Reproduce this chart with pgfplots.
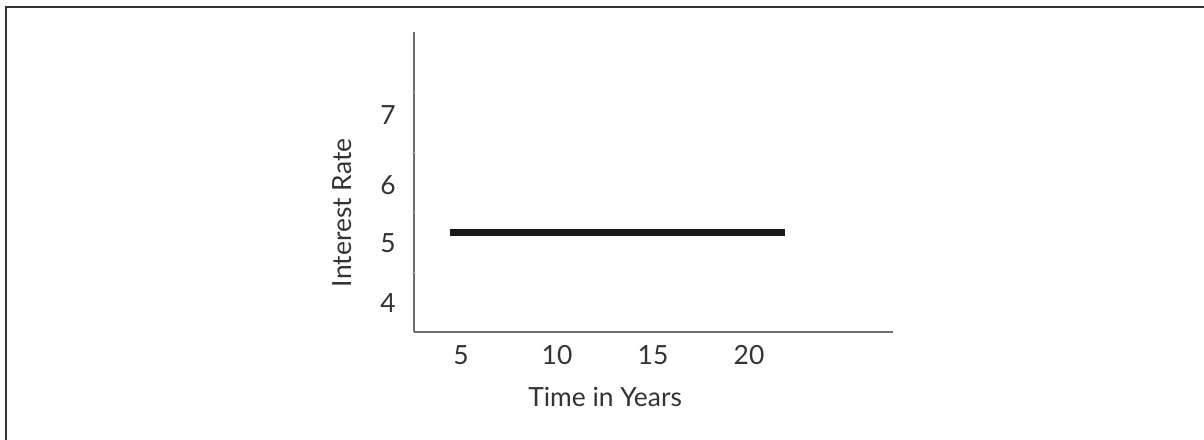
\documentclass[border=0pt]{standalone}
\usepackage{fontspec}
\setmainfont{Lato}
\usepackage{pgfplots}
\pgfplotsset{compat=1.18}

\definecolor{txt}{HTML}{333333}
\definecolor{axgray}{HTML}{6E6E6E}
\definecolor{frame}{HTML}{333333}

\begin{document}
\begin{tikzpicture}
% outer frame (only left and top edges are visible)
\draw[frame, line width=2bp] (6bp,0) -- (6bp,433bp) -- (1204bp,433bp);

\begin{axis}[
  at={(414bp,108bp)}, anchor=south west,
  scale only axis, width=479bp, height=300bp,
  xmin=2.55, xmax=27.5, ymin=3.52, ymax=8.52,
  axis lines*=left,
  axis line style={axgray, line width=2bp},
  xtick={5,10,15,20},
  ytick={4,5,5.97,7.13}, yticklabels={4,5,6,7},
  major tick length=0pt,
  extra y ticks={4.52,5.52,6.52,7.52},
  extra y tick labels={},
  extra y tick style={major tick length=2bp, tick style={axgray!30, line width=0.6bp}, tick align=inside},
  /pgf/number format/assume math mode=true,
  tick label style={font=\fontsize{26.5}{31}\selectfont, text=txt, inner sep=0pt},
  xticklabel style={anchor=north, yshift=-13bp},
  yticklabel style={anchor=east, xshift=-18bp},
  label style={font=\fontsize{26.5}{31}\selectfont, text=txt, inner sep=0pt},
  xlabel={Time in Years},
  xlabel style={at={(rel axis cs:0.399,-0.217)}, anchor=center},
  ylabel={Interest Rate},
  ylabel style={at={(rel axis cs:-0.150,0.397)}, anchor=center},
  clip=false,
]
\addplot[color=black!90, line width=7bp, line cap=butt] coordinates {(4.4,5.18) (21.9,5.18)};
\end{axis}
\pgfresetboundingbox
\useasboundingbox (0,0) rectangle (1204bp,440bp);
\end{tikzpicture}
\end{document}
